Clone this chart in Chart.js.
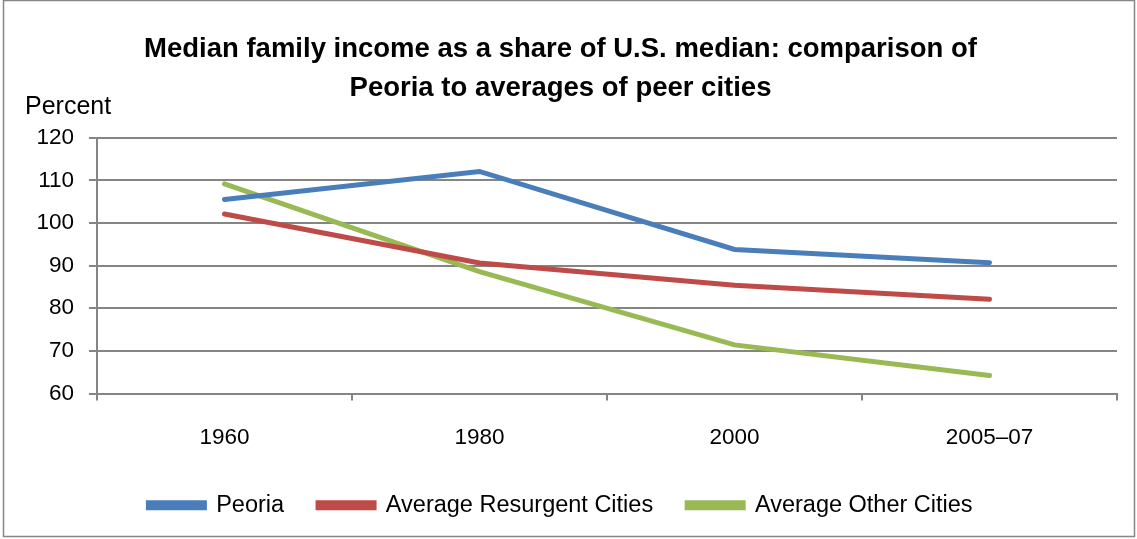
<!DOCTYPE html>
<html>
<head>
<meta charset="utf-8">
<script src="https://cdn.jsdelivr.net/npm/chart.js@4.4.1/dist/chart.umd.min.js"></script>
<style>
  body { margin: 0; background: #fff; }
  #wrap { width: 1137px; height: 539px; }
</style>
</head>
<body>
<div id="wrap"><canvas id="incomeChart" width="1137" height="539"></canvas></div>
<script>
// データ
const years = ['1960', '1980', '2000', '2005–07'];
const peoria = [105.5, 112.1, 93.8, 90.7];
const resurgent = [102.1, 90.6, 85.4, 82.1];
const otherCities = [109.2, 88.6, 71.4, 64.2];
const yTicks = [60, 70, 80, 90, 100, 110, 120];

const FONT = "'Liberation Sans', Arial, sans-serif";
const GRID = '#858585';

// 外枠と「Percent」ラベル
const extras = {
  id: 'extras',
  beforeDraw(chart) {
    const ctx = chart.ctx;
    ctx.save();
    ctx.strokeStyle = '#868686';
    ctx.lineWidth = 1.5;
    ctx.strokeRect(3.5, 0.5, 1131, 536);
    ctx.restore();
  },
  afterDraw(chart) {
    const ctx = chart.ctx;
    ctx.save();
    ctx.fillStyle = '#000';
    ctx.font = '25px ' + FONT;
    ctx.textBaseline = 'middle';
    ctx.fillText('Percent', 25, 107);
    ctx.restore();
  }
};

function lineSet(label, data, color) {
  return {
    label: label,
    data: data,
    borderColor: color,
    backgroundColor: color,
    borderWidth: 5,
    borderCapStyle: 'round',
    pointRadius: 0,
    tension: 0,
    fill: false
  };
}

new Chart(document.getElementById('incomeChart'), {
  type: 'line',
  data: {
    labels: years,
    datasets: [
      lineSet('Peoria', peoria, '#4A7EBB'),
      lineSet('Average Resurgent Cities', resurgent, '#BE4B48'),
      lineSet('Average Other Cities', otherCities, '#98B954')
    ]
  },
  options: {
    responsive: false,
    animation: false,
    layout: { padding: { left: 4, right: 20, top: 0, bottom: 12 } },
    plugins: {
      title: {
        display: true,
        text: ['Median family income as a share of U.S. median: comparison of', 'Peoria to averages of peer cities'],
        color: '#000',
        font: { family: FONT, size: 27.5, weight: 'bold', lineHeight: 1.45 },
        padding: { top: 29, bottom: 29 }
      },
      legend: {
        position: 'bottom',
        labels: {
          color: '#000',
          font: { family: FONT, size: 23.5 },
          boxWidth: 56,
          boxHeight: 5,
          padding: 34
        }
      },
      tooltip: { enabled: false }
    },
    scales: {
      x: {
        offset: true,
        grid: { drawOnChartArea: false, drawTicks: true, tickLength: 7, offset: true, color: GRID, lineWidth: 2 },
        border: { color: GRID, width: 2 },
        ticks: { color: '#000', font: { family: FONT, size: 22.5 }, padding: 24, maxRotation: 0 },
        afterFit(scale) { scale.height = 66; }
      },
      y: {
        min: 60,
        max: 120,
        afterBuildTicks(scale) { scale.ticks = yTicks.map(v => ({ value: v })); },
        grid: { color: GRID, lineWidth: 2, tickLength: 8 },
        border: { color: GRID, width: 2 },
        ticks: { color: '#000', font: { family: FONT, size: 22.5 }, padding: 15 },
        afterFit(scale) { scale.width = 93; }
      }
    }
  },
  plugins: [extras]
});
</script>
</body>
</html>
